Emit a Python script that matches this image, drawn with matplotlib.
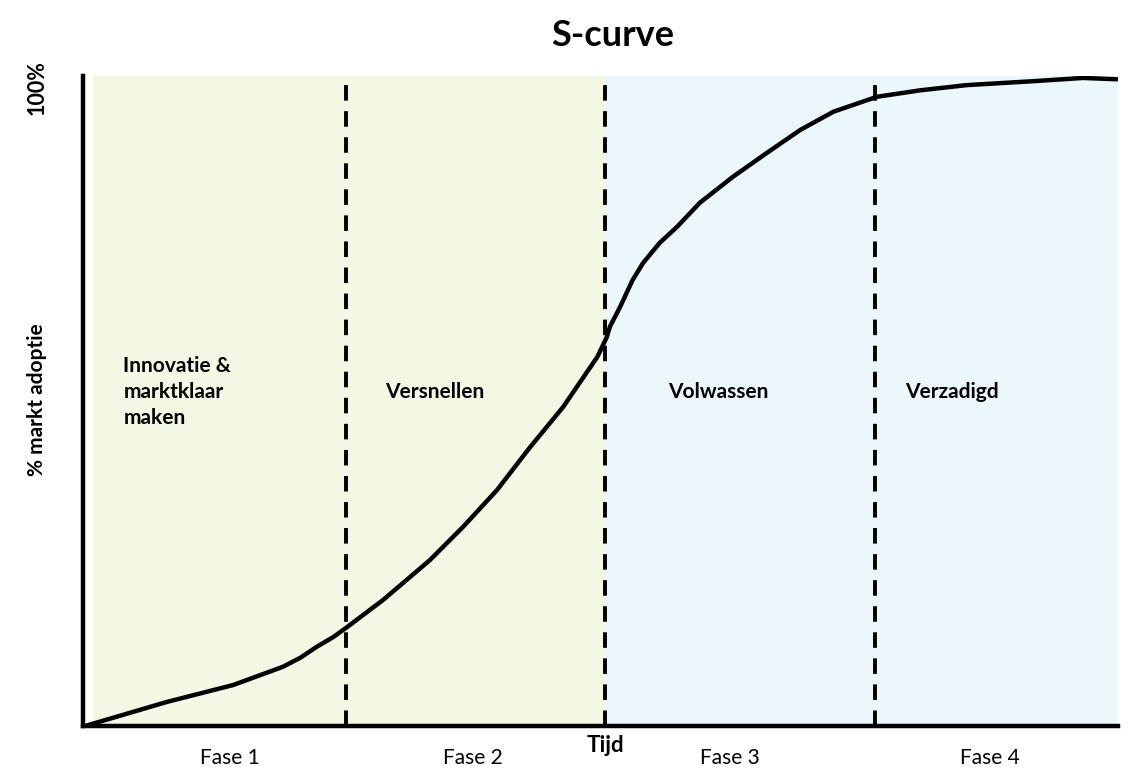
import matplotlib.pyplot as plt
from matplotlib import transforms

plt.rcParams['font.family'] = ['Lato', 'DejaVu Sans']

# curve (time 0-100, adoption 0-100 %)
tijd = [0.2, 8.1, 14.5, 19.3, 21.0, 22.6, 24.2, 25.5, 29.0, 33.5, 36.7, 40.0, 43.2, 46.4, 49.7,
        50.6, 50.9, 51.9, 53.1, 54.1, 55.7, 57.4, 59.6, 62.8, 66.1, 69.3, 72.5, 76.7, 80.9,
        85.4, 91.8, 96.6, 99.9]
adoptie = [0, 3.7, 6.3, 9.1, 10.5, 12.2, 13.7, 15.2, 19.4, 25.5, 30.6, 36.3, 42.9, 49.1, 56.8,
           59.8, 61.4, 64.5, 68.6, 71.2, 74.3, 76.8, 80.5, 84.5, 88.2, 91.7, 94.5, 96.8, 97.8,
           98.6, 99.2, 99.7, 99.5]

grenzen = [25.4, 50.4, 76.5]
fase_namen = ['Fase 1', 'Fase 2', 'Fase 3', 'Fase 4']
fase_x = [14.2, 37.7, 62.5, 87.6]

fig = plt.figure(figsize=(11.28, 7.79), dpi=100)
ax = fig.add_axes([83 / 1128, (779 - 726) / 779, (1118 - 83) / 1128, 650 / 779])
ax.set_xlim(0, 100)
ax.set_ylim(0, 100)

# achtergrond
ax.axvspan(0.97, grenzen[1], ymin=0, ymax=1, color='#F3F8E4', lw=0, zorder=0)
ax.axvspan(grenzen[1], 100, ymin=0, ymax=1, color='#EBF7FA', lw=0, zorder=0)

for g in grenzen:
    ax.axvline(g, color='black', lw=2.8, linestyle=(0, (4.0, 2.7)), zorder=2)

ax.plot(tijd, adoptie, color='black', lw=3.2, solid_capstyle='round', solid_joinstyle='round',
        zorder=3)

for side in ['top', 'right']:
    ax.spines[side].set_visible(False)
for side in ['left', 'bottom']:
    ax.spines[side].set_linewidth(3.2)
ax.set_xticks([])
ax.set_yticks([])

# tekst in de fases
ax.text(3.9, 51.4, 'Innovatie &\nmarktklaar\nmaken', fontsize=15, fontweight='bold',
        va='center', ha='left', linespacing=1.4)
ax.text(29.2, 51.4, 'Versnellen', fontsize=15, fontweight='bold', va='center', ha='left')
ax.text(56.5, 51.4, 'Volwassen', fontsize=15, fontweight='bold', va='center', ha='left')
ax.text(79.4, 51.4, 'Verzadigd', fontsize=15, fontweight='bold', va='center', ha='left')

trans = transforms.blended_transform_factory(ax.transData, fig.transFigure)
for naam, x in zip(fase_namen, fase_x):
    ax.text(x, 1 - 758 / 779, naam, fontsize=15, ha='center', va='center', transform=trans)
ax.text(50.5, 1 - 745 / 779, 'Tijd', fontsize=16, fontweight='bold', ha='center', va='center',
        transform=trans)

fig.text(613 / 1128, 1 - 35 / 779, 'S-curve', fontsize=26, fontweight='bold', ha='center', va='center')
fig.text(37 / 1128, 1 - 88 / 779, '100%', fontsize=15.5, fontweight='bold', rotation=90,
         ha='center', va='center')
fig.text(37 / 1128, 1 - 400 / 779, '% markt adoptie', fontsize=15, fontweight='bold', rotation=90,
         ha='center', va='center')

plt.savefig('out.png', dpi=100)
